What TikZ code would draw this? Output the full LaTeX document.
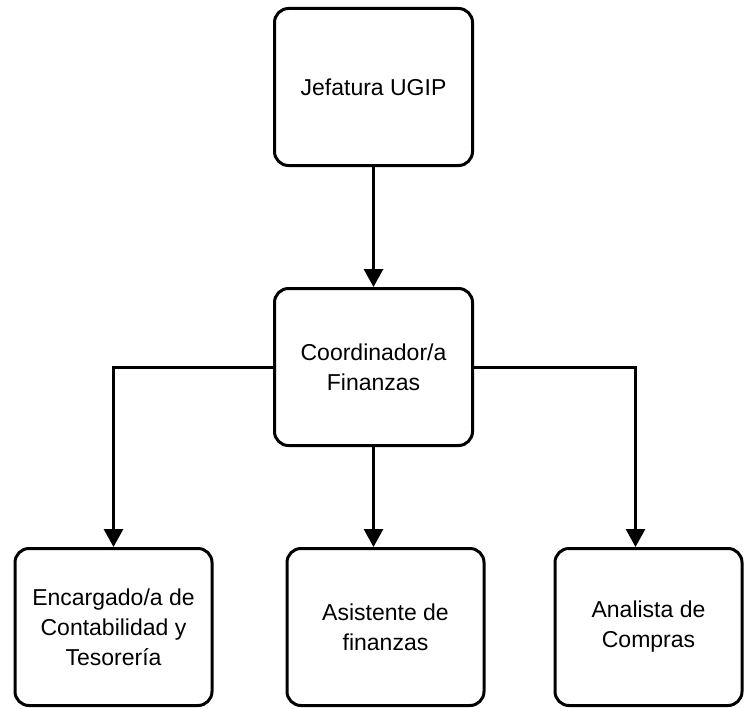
\documentclass[tikz,border=0pt]{standalone}
\usepackage{fontspec}
\setmainfont{Liberation Sans}
\usetikzlibrary{arrows.meta,positioning}

\begin{document}
\begin{tikzpicture}[node distance=100pt, >={Triangle[length=18pt,width=19pt]},
  puesto/.style={rectangle, rounded corners=14pt, draw, line width=3pt,
    minimum width=198pt, minimum height=157pt, align=center,
    font=\fontsize{23}{30}\selectfont},
  enlace/.style={line width=3pt}]
\useasboundingbox (0,0) rectangle (744pt,-709pt);
\node (J) [puesto] at (373.5pt,-87pt) {Jefatura UGIP};
\node (C) [puesto, below=120pt of J] {Coordinador/a\\Finanzas};
\node (A) [puesto, minimum width=197pt, below=100pt of C, xshift=12pt] {Asistente de\\finanzas};
\node (E) [puesto, minimum width=197pt, left=72pt of A] {Encargado/a de\\Contabilidad y\\Tesorería};
\node (P) [puesto, minimum width=187pt, right=68pt of A] {Analista de\\Compras};
\draw[enlace,->] (J) -- (C);
\draw[enlace,->] (C.west) -| (E.north);
\draw[enlace,->] (C.south) -- (C.south |- A.north);
\draw[enlace,->] (C.east) -| ([xshift=-13pt]P.north);
\end{tikzpicture}
\end{document}
